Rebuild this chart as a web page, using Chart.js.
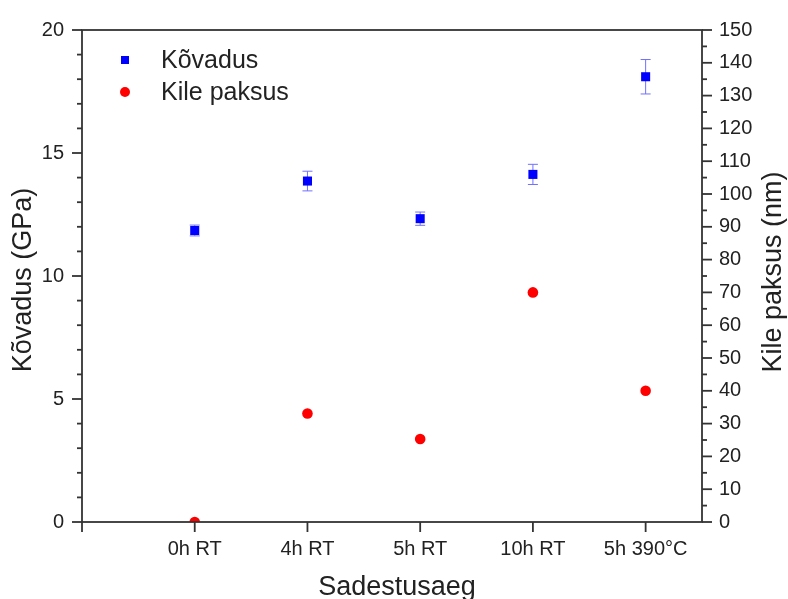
<!DOCTYPE html>
<html>
<head>
<meta charset="utf-8">
<script src="https://cdn.jsdelivr.net/npm/chart.js@4"></script>
<style>body{margin:0;background:#fff}</style>
</head>
<body>
<canvas id="chart" width="788" height="599"></canvas>
<script>
// Data
const categories = ["0h RT", "4h RT", "5h RT", "10h RT", "5h 390°C"];
const kovadus = [11.85, 13.86, 12.33, 14.13, 18.1];      // GPa
const kovadusErr = [0.22, 0.4, 0.27, 0.41, 0.7];        // GPa
const kilePaksus = [0, 33.1, 25.3, 70, 40];             // nm

const FONT = "'Liberation Sans', Arial, sans-serif";
const TEXT = "#222";
Chart.defaults.font.family = FONT;
Chart.defaults.color = TEXT;

const toPoints = (vals) => vals.map((v, i) => ({ x: i + 1, y: v }));

// error bars for the hardness series
const errorBars = {
  id: "errorBars",
  beforeDatasetsDraw(chart) {
    const { ctx, scales } = chart;
    ctx.save();
    ctx.strokeStyle = "#7070ff";
    ctx.lineWidth = 1;
    kovadus.forEach((v, i) => {
      const x = scales.x.getPixelForValue(i + 1);
      const y1 = scales.y.getPixelForValue(v - kovadusErr[i]);
      const y2 = scales.y.getPixelForValue(v + kovadusErr[i]);
      ctx.beginPath();
      ctx.moveTo(x, y1); ctx.lineTo(x, y2);
      ctx.moveTo(x - 5, y1); ctx.lineTo(x + 5, y1);
      ctx.moveTo(x - 5, y2); ctx.lineTo(x + 5, y2);
      ctx.stroke();
    });
    ctx.restore();
  }
};

// frame, tick marks, axis titles and legend
const frame = {
  id: "frame",
  afterDraw(chart) {
    const { ctx, chartArea: a, scales } = chart;
    const line = (x1, y1, x2, y2) => { ctx.beginPath(); ctx.moveTo(x1, y1); ctx.lineTo(x2, y2); ctx.stroke(); };
    ctx.save();
    ctx.strokeStyle = "#333";
    ctx.lineWidth = 1.8;
    ctx.strokeRect(a.left, a.top, a.right - a.left, a.bottom - a.top);
    for (let v = 0; v <= 20; v++) {
      const y = scales.y.getPixelForValue(v);
      line(a.left - (v % 5 === 0 ? 10 : 5), y, a.left, y);
    }
    for (let v = 0; v <= 150; v += 5) {
      const y = scales.y2.getPixelForValue(v);
      line(a.right, y, a.right + (v % 10 === 0 ? 10 : 5), y);
    }
    for (let i = 0; i <= categories.length; i++) {
      const x = scales.x.getPixelForValue(i);
      line(x, a.bottom, x, a.bottom + 10);
    }

    ctx.fillStyle = TEXT;
    ctx.font = "27px " + FONT;
    ctx.textAlign = "center";
    ctx.textBaseline = "alphabetic";
    ctx.fillText("Sadestusaeg", (a.left + a.right) / 2 + 5, 595);
    ctx.textBaseline = "middle";
    ctx.save();
    ctx.translate(24, 280); ctx.rotate(-Math.PI / 2);
    ctx.fillText("Kõvadus (GPa)", 0, 0);
    ctx.restore();
    ctx.save();
    ctx.translate(774, 272); ctx.rotate(-Math.PI / 2);
    ctx.fillText("Kile paksus (nm)", 0, 0);
    ctx.restore();

    // legend
    ctx.font = "25px " + FONT;
    ctx.textAlign = "left";
    ctx.fillStyle = "#0000ff";
    ctx.fillRect(121, 56, 8, 8);
    ctx.fillStyle = "#ff0000";
    ctx.beginPath(); ctx.arc(125, 92, 5, 0, Math.PI * 2); ctx.fill();
    ctx.fillStyle = TEXT;
    ctx.fillText("Kõvadus", 161, 61);
    ctx.fillText("Kile paksus", 161, 93);
    ctx.restore();
  }
};

new Chart(document.getElementById("chart"), {
  type: "scatter",
  data: {
    datasets: [
      {
        label: "Kõvadus",
        data: toPoints(kovadus),
        yAxisID: "y",
        pointStyle: "rect",
        pointRadius: 6.4,
        backgroundColor: "#0000ff",
        borderColor: "#0000ff",
        borderWidth: 0
      },
      {
        label: "Kile paksus",
        data: toPoints(kilePaksus),
        yAxisID: "y2",
        pointStyle: "circle",
        pointRadius: 5.3,
        backgroundColor: "#ff0000",
        borderColor: "#ff0000",
        borderWidth: 0
      }
    ]
  },
  options: {
    responsive: false,
    animation: false,
    layout: { padding: { top: 24, left: 0, right: 0, bottom: 0 } },
    plugins: { legend: { display: false }, tooltip: { enabled: false } },
    scales: {
      x: {
        type: "linear",
        min: 0,
        max: 5.5,
        afterFit: (s) => { s.height = 77; },
        grid: { display: false, drawTicks: false },
        border: { display: false },
        ticks: {
          stepSize: 1,
          includeBounds: false,
          padding: 15,
          font: { size: 20 },
          color: TEXT,
          maxRotation: 0,
          autoSkip: false,
          callback: (v) => categories[v - 1] || ""
        }
      },
      y: {
        position: "left",
        min: 0,
        max: 20,
        afterFit: (s) => { s.width = 82; },
        grid: { display: false, drawTicks: false },
        border: { display: false },
        ticks: { stepSize: 5, padding: 18, font: { size: 20 }, color: TEXT }
      },
      y2: {
        position: "right",
        min: 0,
        max: 150,
        afterFit: (s) => { s.width = 86; },
        grid: { display: false, drawTicks: false },
        border: { display: false },
        ticks: { stepSize: 10, padding: 17, font: { size: 20 }, color: TEXT, autoSkip: false }
      }
    }
  },
  plugins: [errorBars, frame]
});
</script>
</body>
</html>
